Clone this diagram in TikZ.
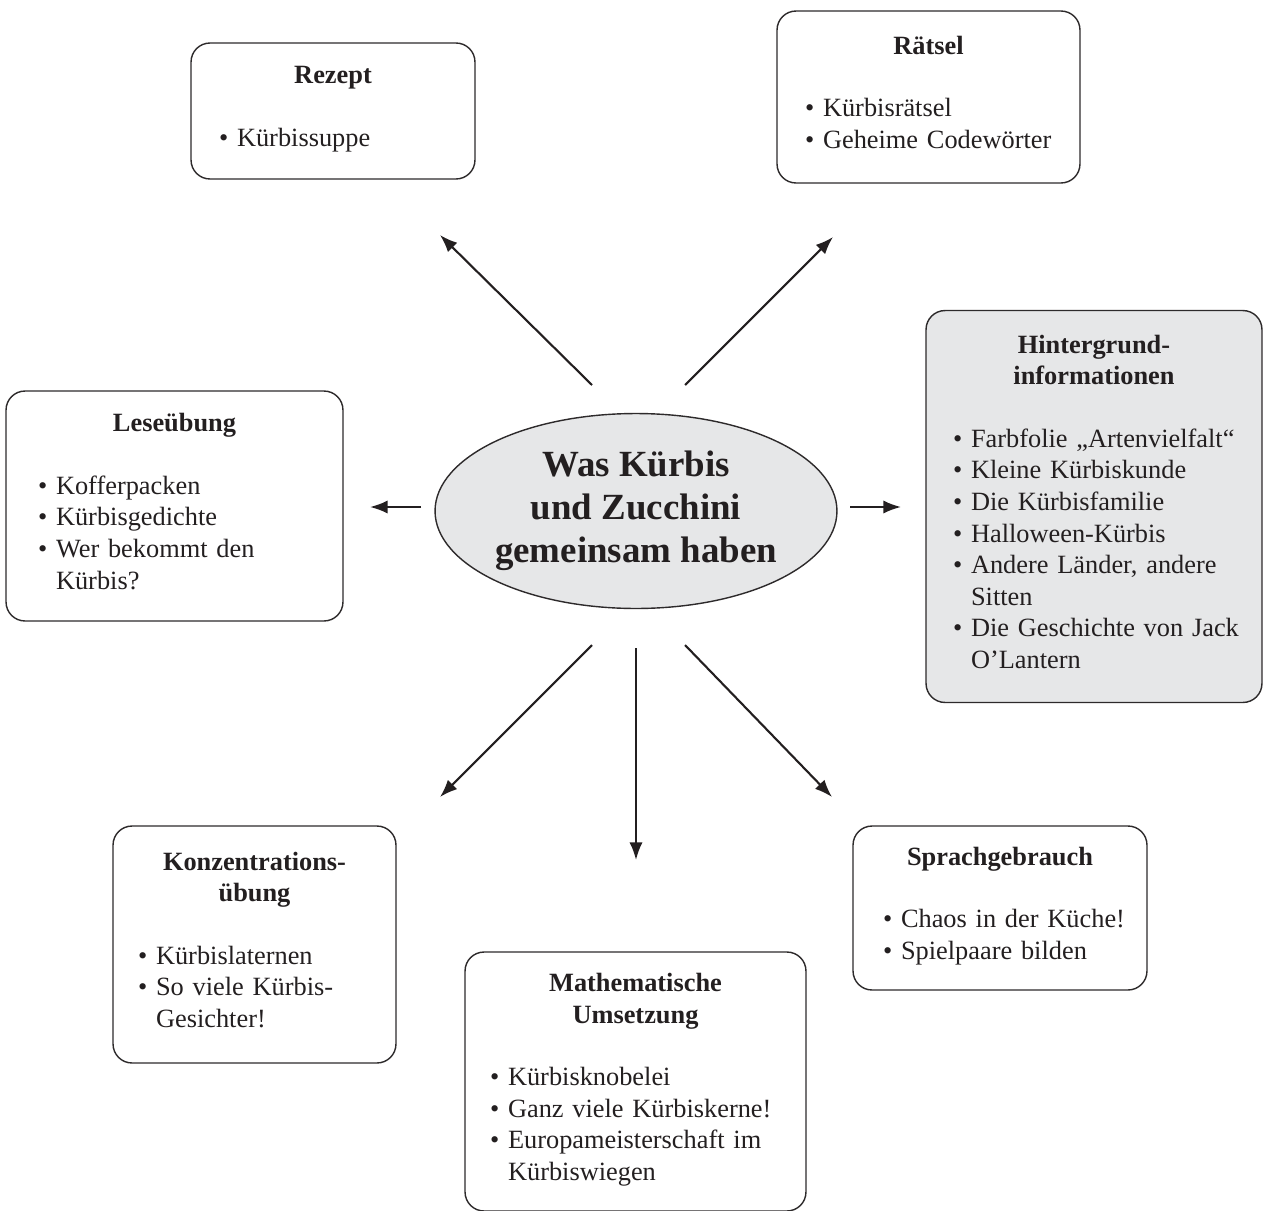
\documentclass[tikz,border=0pt]{standalone}
\usepackage{fontspec}
\setmainfont{Liberation Serif}
\usepackage{tikz}
\usetikzlibrary{arrows.meta,shapes.geometric}
\definecolor{rahmen}{RGB}{45,42,43}
\definecolor{hellgrau}{RGB}{230,231,232}
\definecolor{schrift}{RGB}{35,31,32}
\newcommand{\titel}[1]{{\centering\bfseries #1\par}\vspace{17.5pt}\noindent}
\newcommand{\liste}[1]{\begin{tabular}[t]{@{}l@{\hspace{5pt}}l@{}}#1\end{tabular}}
\tikzset{
  thema/.style={draw=rahmen, line width=0.8pt, rounded corners=0.38cm, inner xsep=0.55cm, inner ysep=0pt,
    align=left, text=schrift, font=\fontsize{15}{18}\selectfont},
  pfeil/.style={-{Latex[length=10pt,width=7.5pt]}, line width=1.2pt, draw=schrift},
}

\begin{document}
\begin{tikzpicture}[x=0.02cm, y=-0.02cm]
        \useasboundingbox (0,0) rectangle (1264,1210);
        \node [draw=rahmen, line width=0.8pt, fill=hellgrau, ellipse, minimum width=8.04cm, minimum height=3.9cm, inner sep=0pt,
               align=center, text=schrift, font=\fontsize{21}{24.4}\bfseries] (mitte) at (636,511)
               {Was Kürbis\\und Zucchini\\gemeinsam haben};
        \node [thema, inner xsep=0.56cm, text width=4.56cm, minimum height=2.72cm] (rezept) at (333,111)
               {\titel{Rezept}\liste{\textbullet & Kürbissuppe}};
        \node [thema, inner xsep=0.56cm, text width=4.94cm, minimum height=3.44cm] (raetsel) at (928.5,97)
               {\titel{Rätsel}\liste{\textbullet & Kürbisrätsel\\ \textbullet & Geheime Codewörter}};
        \node [thema, fill=hellgrau, inner xsep=0.54cm, text width=5.64cm, minimum height=7.84cm] (hinter) at (1094,506.5)
               {\titel{Hintergrund-\\informationen}\liste{\textbullet & Farbfolie „Artenvielfalt“\\ \textbullet & Kleine Kürbiskunde\\
               \textbullet & Die Kürbisfamilie\\ \textbullet & Halloween-Kürbis\\ \textbullet & Andere Länder, andere\\ & Sitten\\
               \textbullet & Die Geschichte von Jack\\ & O’Lantern}};
        \node [thema, inner xsep=0.64cm, text width=5.46cm, minimum height=4.6cm] (lesen) at (174.5,506)
               {\titel{Leseübung}\liste{\textbullet & Kofferpacken\\ \textbullet & Kürbisgedichte\\
               \textbullet & Wer bekommt den\\ & Kürbis?}};
        \node [thema, inner xsep=0.5cm, text width=4.66cm, minimum height=4.74cm] (konz) at (254.5,944.5)
               {\titel{Konzentrations-\\übung}\liste{\textbullet & Kürbislaternen\\ \textbullet & So viele Kürbis-\\ & Gesichter!}};
        \node [thema, inner xsep=0.5cm, text width=5.82cm, minimum height=5.18cm] (mathe) at (635.5,1081.5)
               {\titel{Mathematische\\Umsetzung}\liste{\textbullet & Kürbisknobelei\\ \textbullet & Ganz viele Kürbiskerne!\\
               \textbullet & Europameisterschaft im\\ & Kürbiswiegen}};
        \node [thema, inner xsep=0.6cm, text width=4.68cm, minimum height=3.28cm] (sprache) at (1000,908)
               {\titel{Sprachgebrauch}\liste{\textbullet & Chaos in der Küche!\\ \textbullet & Spielpaare bilden}};
        % Pfeile
        \coordinate (a1) at (592,385); \coordinate (b1) at (440,235);
        \coordinate (a2) at (685,385); \coordinate (b2) at (833,237);
        \coordinate (a3) at (421,507); \coordinate (b3) at (370,507);
        \coordinate (a4) at (850,507); \coordinate (b4) at (901,507);
        \coordinate (a5) at (592,645); \coordinate (b5) at (440,797);
        \coordinate (a6) at (636,648); \coordinate (b6) at (636,860);
        \coordinate (a7) at (685,645); \coordinate (b7) at (832,797);
        \foreach \i in {1,...,7}
          \draw [pfeil] (a\i)--(b\i);
\end{tikzpicture}
\end{document}
